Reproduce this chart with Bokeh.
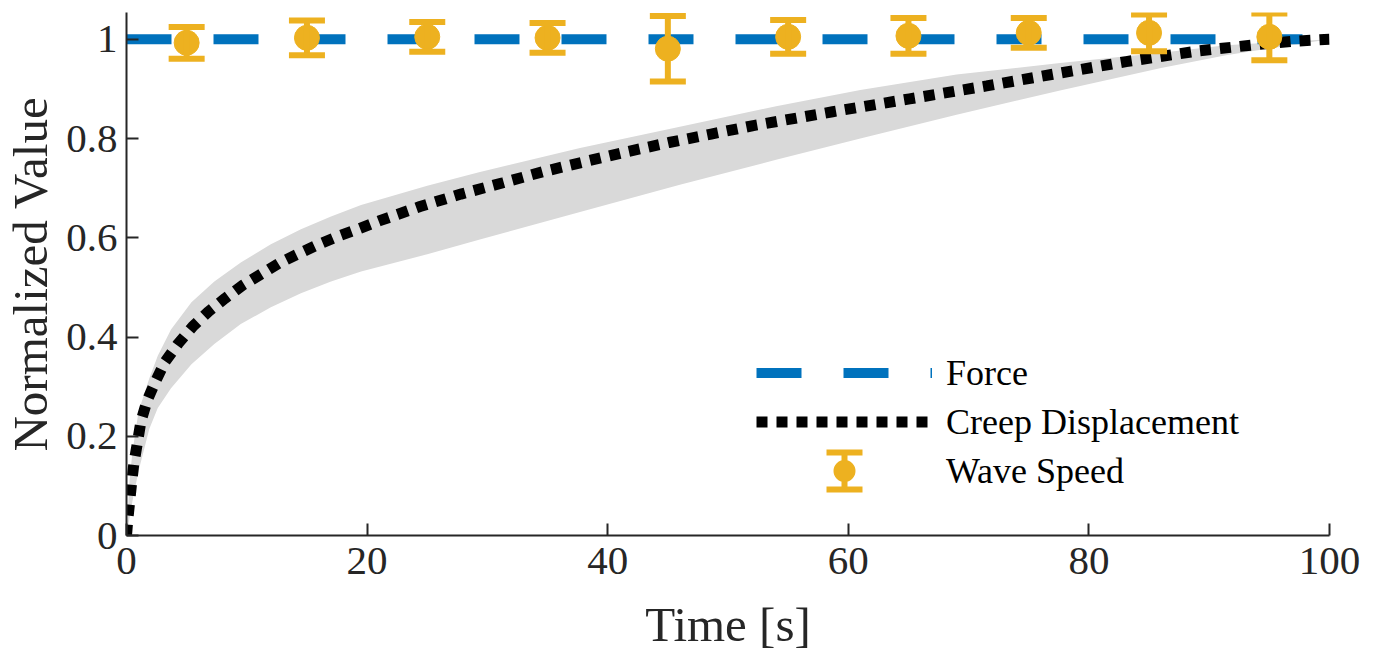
from bokeh.plotting import figure
from bokeh.models import (ColumnDataSource, Whisker, TeeHead, Legend, LegendItem,
                          Range1d, FixedTicker, CustomJSTickFormatter, CustomJS)
from bokeh.embed import file_html
from bokeh.resources import INLINE

FONT = "'Liberation Serif', 'Times New Roman', serif"

# ---------------- data ----------------
x_ticks = [0, 20, 40, 60, 80, 100]
y_ticks = [0, 0.2, 0.4, 0.6, 0.8, 1.0]

force_time = [0, 100]
force_value = [1.0, 1.0]

creep_time = [0, 0.1, 0.25, 0.4, 0.6, 0.9, 1.2, 1.7, 2.4, 3.2, 4.3, 5.5, 6.8, 8.2,
              9.7, 11.2, 12.7, 14.4, 16.0, 17.7, 19.4, 21.0, 24.4, 27.8, 31.3,
              34.6, 38.2, 41.7, 45.1, 48.6, 52.1, 58.7, 65.1, 71.5, 77.6, 83.1,
              89.2, 94.2, 97.0, 100.0]
creep_value = [0, 0.03, 0.065, 0.10, 0.143, 0.186, 0.23, 0.271, 0.31, 0.35, 0.387,
               0.421, 0.451, 0.478, 0.505, 0.527, 0.549, 0.569, 0.587, 0.604,
               0.619, 0.634, 0.663, 0.688, 0.711, 0.733, 0.754, 0.774, 0.792,
               0.809, 0.826, 0.854, 0.880, 0.906, 0.932, 0.955, 0.977, 0.990,
               0.996, 1.0]

band_time = [0, 0.25, 0.5, 1, 1.9, 2.6, 3.7, 5.4, 7.3, 9.5, 12, 14.5, 17, 19.5,
             25, 29.3, 37.7, 46, 54, 61, 69, 77.6, 86, 91.4, 100]
band_upper = [0, 0.11, 0.17, 0.25, 0.317, 0.362, 0.415, 0.47, 0.512, 0.55, 0.587,
              0.617, 0.643, 0.666, 0.705, 0.732, 0.781, 0.824, 0.865, 0.898,
              0.929, 0.952, 0.973, 0.988, 1.0]
band_lower = [0, 0.035, 0.07, 0.13, 0.215, 0.257, 0.297, 0.345, 0.386, 0.426,
              0.46, 0.488, 0.512, 0.532, 0.567, 0.596, 0.652, 0.707, 0.757, 0.80,
              0.848, 0.897, 0.942, 0.968, 1.0]

wave_time = [5, 15, 25, 35, 45, 55, 65, 75, 85, 95]
wave_mean = [0.993, 1.003, 1.005, 1.003, 0.981, 1.005, 1.007, 1.013, 1.013, 1.005]
wave_err = [0.032, 0.035, 0.030, 0.030, 0.066, 0.034, 0.036, 0.030, 0.037, 0.047]

# ---------------- colours ----------------
BLUE = "#0072BD"
ORANGE = "#EDB120"
BAND = "#d9d9d9"
AX = "#262626"

p = figure(frame_width=1203, frame_height=523,
           x_range=Range1d(0, 100), y_range=Range1d(0, 1.054),
           output_backend="svg", toolbar_location=None,
           min_border_left=125, min_border_right=34,
           min_border_top=12, min_border_bottom=105)
p.grid.visible = False
p.outline_line_color = None
p.background_fill_color = "white"
p.border_fill_color = "white"

band = p.varea(x=band_time, y1=band_lower, y2=band_upper, fill_color=BAND)
force = p.line(force_time, force_value, line_color=BLUE, line_width=10,
               line_dash="45 42", line_cap="butt")
creep = p.line(creep_time, creep_value, line_color="black", line_width=11,
               line_dash="11 9", line_cap="butt")

wsrc = ColumnDataSource(dict(
    t=wave_time, m=wave_mean,
    up=[m + e for m, e in zip(wave_mean, wave_err)],
    lo=[m - e for m, e in zip(wave_mean, wave_err)]))
wave = p.scatter("t", "m", source=wsrc, size=25, fill_color=ORANGE,
                 line_color=ORANGE, marker="circle")
wh = Whisker(source=wsrc, base="t", upper="up", lower="lo", dimension="height",
             line_color=ORANGE, line_width=6, level="overlay",
             upper_head=TeeHead(size=36, line_color=ORANGE, line_width=6),
             lower_head=TeeHead(size=36, line_color=ORANGE, line_width=6))
p.add_layout(wh)

# legend-only error-bar symbol (custom marker; its one point is NaN, so it
# is never drawn inside the plot)
wave_renderers = [wave]
try:
    errbar_def = CustomJS(code="""
export default (args, obj, {ctx, i, r, visuals}) => {
  ctx.beginPath()
  ctx.arc(0, 0, 11, 0, 2*Math.PI, false)
  ctx.fillStyle = "#EDB120"
  ctx.fill()
  ctx.beginPath()
  ctx.moveTo(-18, -18.5); ctx.lineTo(18, -18.5)
  ctx.moveTo(0, -18.5); ctx.lineTo(0, 18.5)
  ctx.moveTo(-18, 18.5); ctx.lineTo(18, 18.5)
  ctx.strokeStyle = "#EDB120"
  ctx.lineWidth = 6
  ctx.stroke()
}
""")
    legend_sym = p.scatter(x=[float("nan")], y=[float("nan")], marker="@errbar",
                           defs={"@errbar": errbar_def},
                           fill_color=ORANGE, line_color=ORANGE)
    wave_renderers = [wave, legend_sym]
except Exception:
    pass

# ---------------- axes ----------------
p.xaxis.ticker = FixedTicker(ticks=x_ticks)
p.yaxis.ticker = FixedTicker(ticks=y_ticks)
p.yaxis.formatter = CustomJSTickFormatter(
    code="return tick.toFixed(1).replace(/\\.0$/, '')")
p.xaxis.axis_label = "Time [s]"
p.yaxis.axis_label = "Normalized Value"
for ax in (p.xaxis, p.yaxis):
    ax.axis_line_color = AX
    ax.axis_line_width = 2
    ax.major_tick_line_color = AX
    ax.major_tick_line_width = 2
    ax.major_tick_in = 12
    ax.major_tick_out = 0
    ax.minor_tick_in = 0
    ax.minor_tick_out = 0
    ax.major_label_text_font = FONT
    ax.major_label_text_font_size = "41px"
    ax.major_label_text_color = AX
    ax.axis_label_text_font = FONT
    ax.axis_label_text_font_size = "49px"
    ax.axis_label_text_font_style = "normal"
    ax.axis_label_text_color = AX
p.xaxis.major_label_standoff = 12
p.xaxis.axis_label_standoff = 20
p.yaxis.major_label_standoff = 9
p.yaxis.axis_label_standoff = 5

legend = Legend(items=[
    LegendItem(label="Force", renderers=[force]),
    LegendItem(label="Creep Displacement", renderers=[creep]),
    LegendItem(label="Wave Speed", renderers=wave_renderers),
], location=(630, 40))
legend.label_text_font = FONT
legend.label_text_font_size = "36px"
legend.label_text_color = "black"
legend.glyph_width = 176
legend.glyph_height = 49
legend.label_height = 49
legend.spacing = 0
legend.padding = 0
legend.margin = 0
legend.label_standoff = 14
legend.border_line_color = None
legend.background_fill_alpha = 0
p.add_layout(legend)

open("out.html", "w").write(file_html(p, INLINE))
